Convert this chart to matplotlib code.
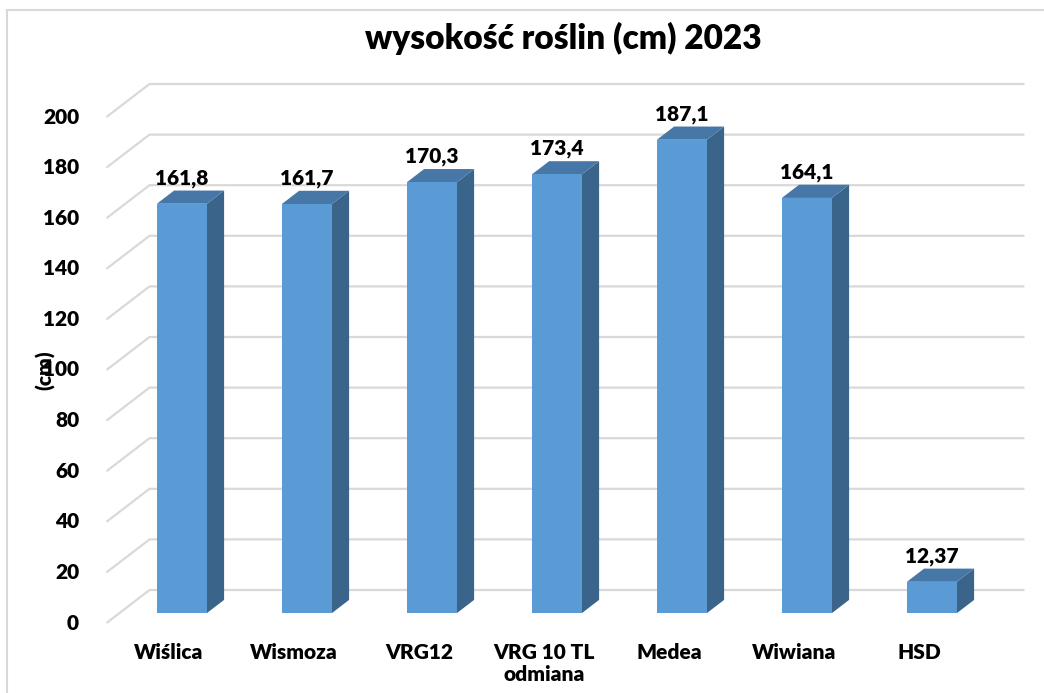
import matplotlib.pyplot as plt
from matplotlib.patches import Polygon, Rectangle

plt.rcParams['font.family'] = ['Lato', 'DejaVu Sans']

categories = ['Wiślica', 'Wismoza', 'VRG12', 'VRG 10 TL\nodmiana', 'Medea', 'Wiwiana', 'HSD']
values = [161.8, 161.7, 170.3, 173.4, 187.1, 164.1, 12.37]
labels = ['161,8', '161,7', '170,3', '173,4', '187,1', '164,1', '12,37']
yticks = list(range(0, 201, 20))

W, H = 1044, 693
fig = plt.figure(figsize=(W / 100, H / 100), dpi=100)
ax = fig.add_axes([0, 0, 1, 1])

# pixel layout of the fake 3d plot
px_cat = 125.0      # px per category
x0_px = 169.0       # front-plane centre of first category
py_unit = 2.53      # px per value unit
y0_px = 623.0       # front-plane zero line (from top)
ax.set_xlim(-x0_px / px_cat, (W - x0_px) / px_cat)
ax.set_ylim((y0_px - H) / py_unit, y0_px / py_unit)
ax.axis('off')

DX = 43 / px_cat    # depth shift in data units
DY = 33 / py_unit


def proj(x, v, d):
    return (x + DX * d, v + DY * d)


fw = 'heavy'
grid_c = '#D9D9D9'
xl, xr = -0.5, len(categories) - 0.5
for v in yticks:
    pts = [proj(xl, v, 0), proj(xl, v, 1), proj(xr, v, 1)]
    ax.plot([p[0] for p in pts], [p[1] for p in pts], color=grid_c, lw=1.6,
            zorder=1, solid_capstyle='butt')
    ax.text(-0.72, v, str(v), ha='right', va='center',
            fontsize=15, fontweight=fw, color='#000000')

front_c, side_c, top_c = '#5B9BD5', '#3A6489', '#4677A6'
hw = 0.2
d1, d2 = 0.3, 0.7
for i, (v, lab) in enumerate(zip(values, labels)):
    front = [proj(i - hw, 0, d1), proj(i + hw, 0, d1), proj(i + hw, v, d1), proj(i - hw, v, d1)]
    side = [proj(i + hw, 0, d1), proj(i + hw, 0, d2), proj(i + hw, v, d2), proj(i + hw, v, d1)]
    top = [proj(i - hw, v, d1), proj(i + hw, v, d1), proj(i + hw, v, d2), proj(i - hw, v, d2)]
    ax.add_patch(Polygon(side, closed=True, fc=side_c, ec='none', zorder=3))
    ax.add_patch(Polygon(top, closed=True, fc=top_c, ec='none', zorder=3))
    ax.add_patch(Polygon(front, closed=True, fc=front_c, ec='none', zorder=4))
    cx, cy = proj(i, v, d2)
    fx = proj(i, v, d1)[0]
    ax.text(fx, cy + 1.2, lab, ha='center', va='bottom', fontsize=15,
            fontweight=fw, color='#000000', zorder=5)

for i, c in enumerate(categories):
    ax.text(i, -8.0, c, ha='center', va='top', fontsize=15, fontweight=fw,
            color='#000000', linespacing=1.15)

fig.text(563 / W, 1 - 38 / H, 'wysokość roślin (cm) 2023', ha='center', va='center',
         fontsize=24, fontweight=fw, color='#000000')
fig.text(45 / W, 1 - 370 / H, '(cm)', ha='center', va='center', rotation=90,
         fontsize=15, fontweight=fw, color='#000000')

fig.patches.append(Rectangle((7 / W, -0.05), 1.1, 1.05 - 10 / H, transform=fig.transFigure,
                             fill=False, ec='#D9D9D9', lw=1.5))

fig.savefig('out.png', dpi=100)
